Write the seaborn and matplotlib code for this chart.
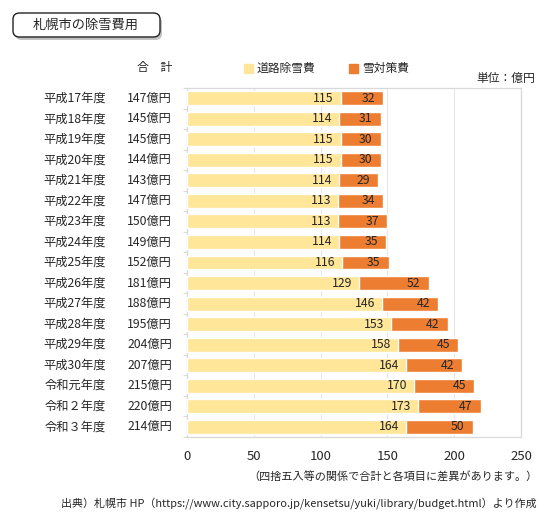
import matplotlib
matplotlib.use("Agg")
import matplotlib.pyplot as plt
import matplotlib.transforms as mtransforms
from matplotlib.patches import FancyBboxPatch
import seaborn as sns
import pandas as pd
import numpy as np

years = ["平成17年度", "平成18年度", "平成19年度", "平成20年度", "平成21年度",
         "平成22年度", "平成23年度", "平成24年度", "平成25年度", "平成26年度",
         "平成27年度", "平成28年度", "平成29年度", "平成30年度", "令和元年度",
         "令和２年度", "令和３年度"]
road = [115, 114, 115, 115, 114, 113, 113, 114, 116, 129, 146, 153, 158, 164, 170, 173, 164]
snow = [32, 31, 30, 30, 29, 34, 37, 35, 35, 52, 42, 42, 45, 42, 45, 47, 50]
totals = [147, 145, 145, 144, 143, 147, 150, 149, 152, 181, 188, 195, 204, 207, 215, 220, 214]

YELLOW = "#FFE699"
ORANGE = "#ED7D31"
GRID = "#D9D9D9"

sns.set_style("white")
plt.rcParams["font.family"] = ["Noto Sans CJK JP", "DejaVu Sans"]

df = pd.DataFrame({"year": years, "road": road, "snow": snow})
df["stack"] = df["road"] + df["snow"]

fig = plt.figure(figsize=(5.53, 5.25), dpi=100)
ax = fig.add_axes([187 / 553, 1 - 437 / 525, (521 - 187) / 553, (437 - 88) / 525])

# stacked bars: total in orange underneath, road cost in yellow on top
sns.barplot(data=df, x="stack", y="year", color=ORANGE, saturation=1,
            width=0.68, ax=ax, zorder=2)
sns.barplot(data=df, x="road", y="year", color=YELLOW, saturation=1,
            width=0.68, ax=ax, zorder=3)

for i, (r, s) in enumerate(zip(road, snow)):
    ax.annotate(str(r), (r, i), xytext=(-5, 0), textcoords="offset points",
                ha="right", va="center", fontsize=8.8, zorder=5)
    ax.annotate(str(s), (r + s, i), xytext=(-6, 0), textcoords="offset points",
                ha="right", va="center", fontsize=8.8, zorder=5)

ax.set_xlim(0, 250)
ax.set_ylim(len(years) - 0.5, -0.5)
ax.set_xticks(np.arange(0, 251, 50))
ax.tick_params(axis="x", labelsize=9.5, length=3, color=GRID, pad=6)
ax.set_yticks(np.arange(len(years) + 1) - 0.5)
ax.set_yticklabels([])
ax.tick_params(axis="y", length=3, color=GRID, left=True)
ax.set_xlabel("")
ax.set_ylabel("")
ax.xaxis.grid(True, color="#E6E6E6", lw=0.8, zorder=0)
ax.set_axisbelow(True)
for sp in ax.spines.values():
    sp.set_color(GRID)
    sp.set_linewidth(0.9)

trans = mtransforms.blended_transform_factory(fig.transFigure, ax.transData)
for i, (y, t) in enumerate(zip(years, totals)):
    ax.text(106 / 553, i, y, transform=trans, ha="right", va="center", fontsize=8.8)
    ax.text(172 / 553, i, f"{t}億円", transform=trans, ha="right", va="center", fontsize=8.8)

# header texts
fig.text(155 / 553, 1 - 68 / 525, "合　計", ha="center", va="center", fontsize=8.5)
fig.patches.append(plt.Rectangle((244 / 553, 1 - 73 / 525), 9 / 553, 9 / 525,
                                 color=YELLOW, transform=fig.transFigure))
fig.text(257 / 553, 1 - 68 / 525, "道路除雪費", ha="left", va="center", fontsize=8.5)
fig.patches.append(plt.Rectangle((349 / 553, 1 - 73 / 525), 9 / 553, 9 / 525,
                                 color=ORANGE, transform=fig.transFigure))
fig.text(362 / 553, 1 - 68 / 525, "雪対策費", ha="left", va="center", fontsize=8.5)
fig.text(535 / 553, 1 - 78 / 525, "単位：億円", ha="right", va="center", fontsize=8.5)

# title box with shadow
shadow = FancyBboxPatch((15 / 553, 1 - 40 / 525), 147 / 553, 24 / 525,
                        boxstyle="round,pad=0,rounding_size=0.012",
                        transform=fig.transFigure, facecolor="#9A9A9A",
                        edgecolor="none", alpha=0.6)
box = FancyBboxPatch((13 / 553, 1 - 37 / 525), 147 / 553, 24 / 525,
                     boxstyle="round,pad=0,rounding_size=0.012",
                     transform=fig.transFigure, facecolor="white",
                     edgecolor="#222222", lw=1.0)
fig.patches.extend([shadow, box])
fig.text(86 / 553, 1 - 25 / 525, "札幌市の除雪費用", ha="center", va="center", fontsize=9.5)

fig.text(538 / 553, 1 - 477 / 525, "（四捨五入等の関係で合計と各項目に差異があります。）",
         ha="right", va="center", fontsize=8)
fig.text(537 / 553, 1 - 503 / 525,
         "出典）札幌市 HP（https://www.city.sapporo.jp/kensetsu/yuki/library/budget.html）より作成",
         ha="right", va="center", fontsize=7.9)

fig.savefig("out.png", dpi=100)
